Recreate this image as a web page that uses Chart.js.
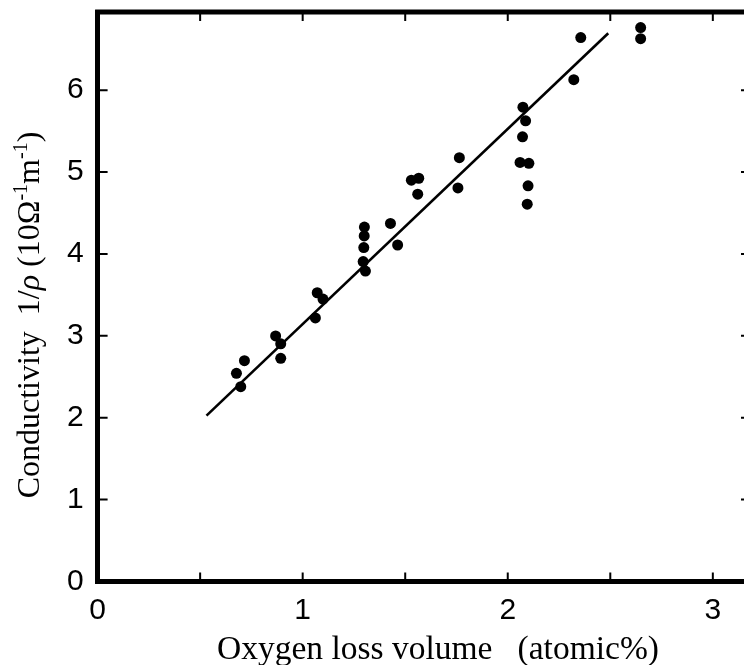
<!DOCTYPE html>
<html>
<head>
<meta charset="utf-8">
<script src="https://cdn.jsdelivr.net/npm/chart.js@4.4.0/dist/chart.umd.min.js"></script>
<style>
  html, body { margin: 0; padding: 0; background: #fff; }
  canvas { display: block; }
</style>
</head>
<body>
<canvas id="condutividade" width="744" height="665"></canvas>
<script>
// valores
const perdaOxigenio = [0.677, 0.716, 0.698, 0.868, 0.893, 0.893, 1.071, 1.099, 1.062,
  1.301, 1.300, 1.298, 1.295, 1.306, 1.428, 1.463, 1.530, 1.566, 1.561, 1.764, 1.757,
  2.074, 2.087, 2.072, 2.060, 2.103, 2.099, 2.095, 2.322, 2.356, 2.648, 2.648];
const condutividade = [2.542, 2.697, 2.379, 2.998, 2.902, 2.725, 3.526, 3.448, 3.219,
  4.328, 4.220, 4.078, 3.907, 3.791, 4.372, 4.109, 4.901, 4.924, 4.730, 5.175, 4.806,
  5.792, 5.625, 5.430, 5.117, 5.106, 4.832, 4.608, 6.128, 6.642, 6.764, 6.628];

const retaX = [0.531, 2.49];
const retaY = [2.026, 6.694];

const marcasX = [0.5, 1, 1.5, 2, 2.5, 3];
const marcasY = [1, 2, 3, 4, 5, 6];

const tituloX = 'Oxygen loss volume   (atomic%)';
const tituloY = [
  { texto: 'Conductivity  1/', estilo: 'normal' },
  { texto: 'ρ', estilo: 'italic' },
  { texto: ' (10Ω', estilo: 'normal' },
  { texto: '-1', estilo: 'sup' },
  { texto: 'm', estilo: 'normal' },
  { texto: '-1', estilo: 'sup' },
  { texto: ')', estilo: 'normal' }
];

const ctx = document.getElementById('condutividade').getContext('2d');

function fonteDaParte(estilo){
  if (estilo === 'italic') return 'italic 32px "Liberation Serif"';
  if (estilo === 'sup') return '20px "Liberation Serif"';
  return '32px "Liberation Serif"';
}

// tira o espaco extra que o Chart.js reserva para os rotulos das pontas
function semPadding(s){
  s.paddingTop = 0;
  s.paddingBottom = 0;
  s.paddingLeft = 0;
  s.paddingRight = 0;
}

const eixosPlugin = {
  id: 'eixos',
  afterDraw(chart){
    const c = chart.ctx;
    const area = chart.chartArea;
    const escalaX = chart.scales.x;
    const escalaY = chart.scales.y;
    c.save();
    c.strokeStyle = '#000';

    // borda de cima
    c.lineWidth = 5;
    c.beginPath();
    c.moveTo(area.left - 2.5, area.top);
    c.lineTo(area.right, area.top);
    c.stroke();

    // marcas para dentro
    c.lineWidth = 2;
    marcasX.forEach((v) => {
      const px = escalaX.getPixelForValue(v);
      c.beginPath();
      c.moveTo(px, area.bottom);
      c.lineTo(px, area.bottom - 9);
      c.moveTo(px, area.top);
      c.lineTo(px, area.top + 9);
      c.stroke();
    });
    marcasY.forEach((v) => {
      const py = escalaY.getPixelForValue(v);
      c.beginPath();
      c.moveTo(area.left, py);
      c.lineTo(area.left + 10, py);
      c.moveTo(area.right - 3, py);
      c.lineTo(area.right, py);
      c.stroke();
    });

    // titulo x
    c.fillStyle = '#000';
    c.font = '33.5px "Liberation Serif"';
    c.textAlign = 'center';
    c.textBaseline = 'alphabetic';
    c.fillText(tituloX, 438, 659);

    // titulo y, girado
    c.textAlign = 'left';
    let total = 0;
    tituloY.forEach((p) => {
      c.font = fonteDaParte(p.estilo);
      total += c.measureText(p.texto).width;
    });
    c.translate(39, 315);
    c.rotate(-Math.PI / 2);
    let pos = -total / 2;
    tituloY.forEach((p) => {
      c.font = fonteDaParte(p.estilo);
      c.fillText(p.texto, pos, p.estilo === 'sup' ? -12 : 0);
      pos += c.measureText(p.texto).width;
    });
    c.restore();
  }
};

new Chart(ctx, {
  data: {
    datasets: [{
      type: 'scatter',
      data: perdaOxigenio.map((x, i) => ({ x: x, y: condutividade[i] })),
      backgroundColor: '#000',
      borderWidth: 0,
      pointRadius: 5.5
    }, {
      type: 'line',
      data: retaX.map((x, i) => ({ x: x, y: retaY[i] })),
      borderColor: '#000',
      borderWidth: 2.6,
      pointRadius: 0,
      fill: false
    }]
  },
  options: {
    responsive: false,
    animation: false,
    devicePixelRatio: 1,
    layout: { autoPadding: false, padding: { top: 12, right: 0, left: 0, bottom: 0 } },
    plugins: { legend: { display: false }, tooltip: { enabled: false } },
    scales: {
      x: {
        type: 'linear',
        min: 0,
        max: 3.152,
        afterFit: (s) => { s.height = 83.5; semPadding(s); },
        grid: { drawOnChartArea: false, drawTicks: false },
        border: { display: true, width: 5, color: '#000' },
        ticks: {
          stepSize: 1,
          includeBounds: false,
          padding: 11,
          color: '#000',
          font: { family: '"Liberation Sans"', size: 30 },
          callback: (v) => v
        }
      },
      y: {
        type: 'linear',
        min: 0,
        max: 6.954,
        afterFit: (s) => { s.width = 97.6; semPadding(s); },
        grid: { drawOnChartArea: false, drawTicks: false },
        border: { display: true, width: 5, color: '#000' },
        ticks: {
          stepSize: 1,
          includeBounds: false,
          padding: 14,
          color: '#000',
          font: { family: '"Liberation Sans"', size: 30 },
          callback: (v) => v
        }
      }
    }
  },
  plugins: [eixosPlugin]
});
</script>
</body>
</html>
